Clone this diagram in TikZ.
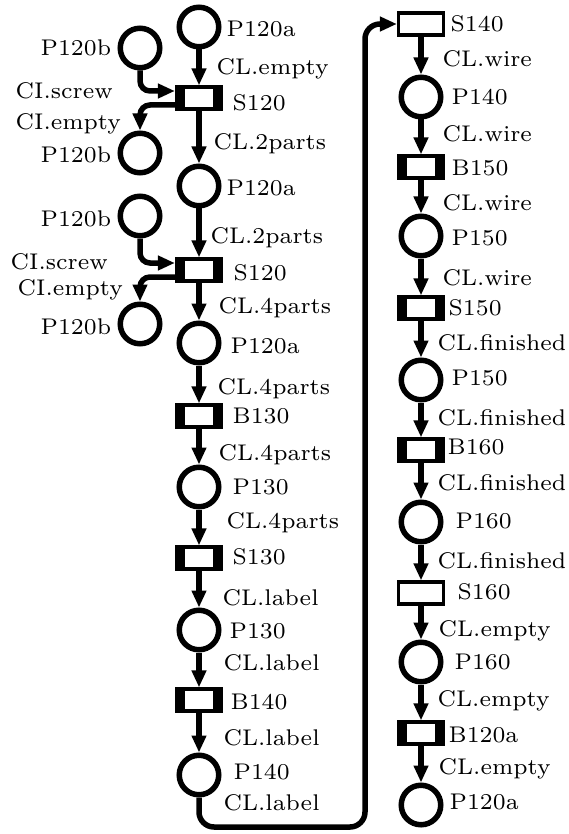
\documentclass[tikz,border=0pt]{standalone}
\usetikzlibrary{arrows.meta}
\tikzset{
  place/.style={circle, draw, line width=5.5pt, minimum size=39.5pt, inner sep=0pt},
  trans/.style={rectangle, draw, line width=3.2pt, minimum width=45pt,
    minimum height=22pt, inner sep=0pt, fill=white},
  flow/.style={line width=5.5pt, -{Triangle[length=17pt,width=14pt]}},
  lbl/.style={anchor=base west, inner sep=0pt,
    font=\fontsize{7}{8.4}\selectfont, scale=3.24},
}
\begin{document}
\begin{tikzpicture}[x=1pt,y=-1pt]
\useasboundingbox (0,0) rectangle (569,834);

% left column
\node[place] (pA1)  at (199,27)  {};
\node[trans] (tS1)  at (199,98)  {};
\node[place] (pA2)  at (199,186) {};
\node[trans] (tS2)  at (199,270) {};
\node[place] (pA3)  at (199,343) {};
\node[trans] (tB130) at (199,416) {};
\node[place] (pP130a) at (199,487) {};
\node[trans] (tS130) at (199,558) {};
\node[place] (pP130b) at (199,630) {};
\node[trans] (tB140) at (199,700) {};
\node[place] (pP140a) at (199,775) {};

% screw places
\node[place] (pB1) at (140,48)  {};
\node[place] (pB2) at (140,153) {};
\node[place] (pB3) at (140,216) {};
\node[place] (pB4) at (140,324) {};

% right column
\node[trans] (tS140) at (421,24)  {};
\node[place] (pP140b) at (421,97)  {};
\node[trans] (tB150) at (421,167) {};
\node[place] (pP150a) at (421,236) {};
\node[trans] (tS150) at (421,308) {};
\node[place] (pP150b) at (421,380) {};
\node[trans] (tB160) at (421,450) {};
\node[place] (pP160a) at (421,522) {};
\node[trans] (tS160) at (421,593) {};
\node[place] (pP160b) at (421,662) {};
\node[trans] (tB120a) at (421,733) {};
\node[place] (pP120e) at (421,805) {};

% black bars on both sides of the timed transitions
\foreach \t in {tS1,tS2,tB130,tS130,tB140,tB150,tS150,tB160,tB120a}{
  \fill (\t.south west) rectangle ([xshift=10pt]\t.north west);
  \fill (\t.south east) rectangle ([xshift=-10pt]\t.north east);
}

\coordinate (cBot) at (365,827);

% arcs, left column
\draw[flow] (pA1) -- (tS1);
\draw[flow] (tS1) -- (pA2);
\draw[flow] (pA2) -- (tS2);
\draw[flow] (tS2) -- (pA3);
\draw[flow] (pA3) -- (tB130);
\draw[flow] (tB130) -- (pP130a);
\draw[flow] (pP130a) -- (tS130);
\draw[flow] (tS130) -- (pP130b);
\draw[flow] (pP130b) -- (tB140);
\draw[flow] (tB140) -- (pP140a);

% screw arcs
\draw[flow, rounded corners=10pt] (pB1.south) |- ([yshift=7pt]tS1.west);
\draw[flow, rounded corners=10pt] ([yshift=-7pt]tS1.west) -| (pB2.north);
\draw[flow, rounded corners=10pt] (pB3.south) |- ([yshift=7pt]tS2.west);
\draw[flow, rounded corners=10pt] ([yshift=-7pt]tS2.west) -| (pB4.north);

% connection between the columns
\draw[flow, rounded corners=15pt] (pP140a.south) |- (cBot) |- (tS140.west);

% arcs, right column
\draw[flow] (tS140) -- (pP140b);
\draw[flow] (pP140b) -- (tB150);
\draw[flow] (tB150) -- (pP150a);
\draw[flow] (pP150a) -- (tS150);
\draw[flow] (tS150) -- (pP150b);
\draw[flow] (pP150b) -- (tB160);
\draw[flow] (tB160) -- (pP160a);
\draw[flow] (pP160a) -- (tS160);
\draw[flow] (tS160) -- (pP160b);
\draw[flow] (pP160b) -- (tB120a);
\draw[flow] (tB120a) -- (pP120e);

% labels, left
\node[lbl] (l01) at (226,37)  {P120a};
\node[lbl] (l02) at (216,75)  {CL.empty};
\node[lbl] (l03) at (40,56)   {P120b};
\node[lbl] (l04) at (15,99)   {CI.screw};
\node[lbl] (l05) at (232,111) {S120};
\node[lbl] (l06) at (15,130)  {CI.empty};
\node[lbl] (l07) at (213,150) {CL.2parts};
\node[lbl] (l08) at (40,163)  {P120b};
\node[lbl] (l09) at (226,196) {P120a};
\node[lbl] (l10) at (40,226)  {P120b};
\node[lbl] (l11) at (210,243) {CL.2parts};
\node[lbl] (l12) at (10,269)  {CI.screw};
\node[lbl] (l13) at (233,280) {S120};
\node[lbl] (l14) at (17,295)  {CI.empty};
\node[lbl] (l15) at (218,313) {CL.4parts};
\node[lbl] (l16) at (40,334)  {P120b};
\node[lbl] (l17) at (230,353) {P120a};
\node[lbl] (l18) at (217,394) {CL.4parts};
\node[lbl] (l19) at (232,423) {B130};
\node[lbl] (l20) at (218,460) {CL.4parts};
\node[lbl] (l21) at (232,494) {P130};
\node[lbl] (l22) at (226,528) {CL.4parts};
\node[lbl] (l23) at (232,564) {S130};
\node[lbl] (l24) at (222,605) {CL.label};
\node[lbl] (l25) at (229,638) {P130};
\node[lbl] (l26) at (223,670) {CL.label};
\node[lbl] (l27) at (230,709) {B140};
\node[lbl] (l28) at (223,745) {CL.label};
\node[lbl] (l29) at (233,779) {P140};
\node[lbl] (l30) at (223,810) {CL.label};

% labels, right
\node[lbl] (r01) at (450,32)  {S140};
\node[lbl] (r02) at (442,67)  {CL.wire};
\node[lbl] (r03) at (451,105) {P140};
\node[lbl] (r04) at (442,142) {CL.wire};
\node[lbl] (r05) at (451,176) {B150};
\node[lbl] (r06) at (442,211) {CL.wire};
\node[lbl] (r07) at (451,245) {P150};
\node[lbl] (r08) at (442,285) {CL.wire};
\node[lbl] (r09) at (448,315) {S150};
\node[lbl] (r10) at (437,350) {CL.finished};
\node[lbl] (r11) at (451,385) {P150};
\node[lbl] (r12) at (437,425) {CL.finished};
\node[lbl] (r13) at (447,454) {B160};
\node[lbl] (r14) at (437,490) {CL.finished};
\node[lbl] (r15) at (455,528) {P160};
\node[lbl] (r16) at (437,568) {CL.finished};
\node[lbl] (r17) at (457,599) {S160};
\node[lbl] (r18) at (438,636) {CL.empty};
\node[lbl] (r19) at (454,669) {P160};
\node[lbl] (r20) at (437,706) {CL.empty};
\node[lbl] (r21) at (448,742) {B120a};
\node[lbl] (r22) at (438,774) {CL.empty};
\node[lbl] (r23) at (449,809) {P120a};
\end{tikzpicture}
\end{document}
